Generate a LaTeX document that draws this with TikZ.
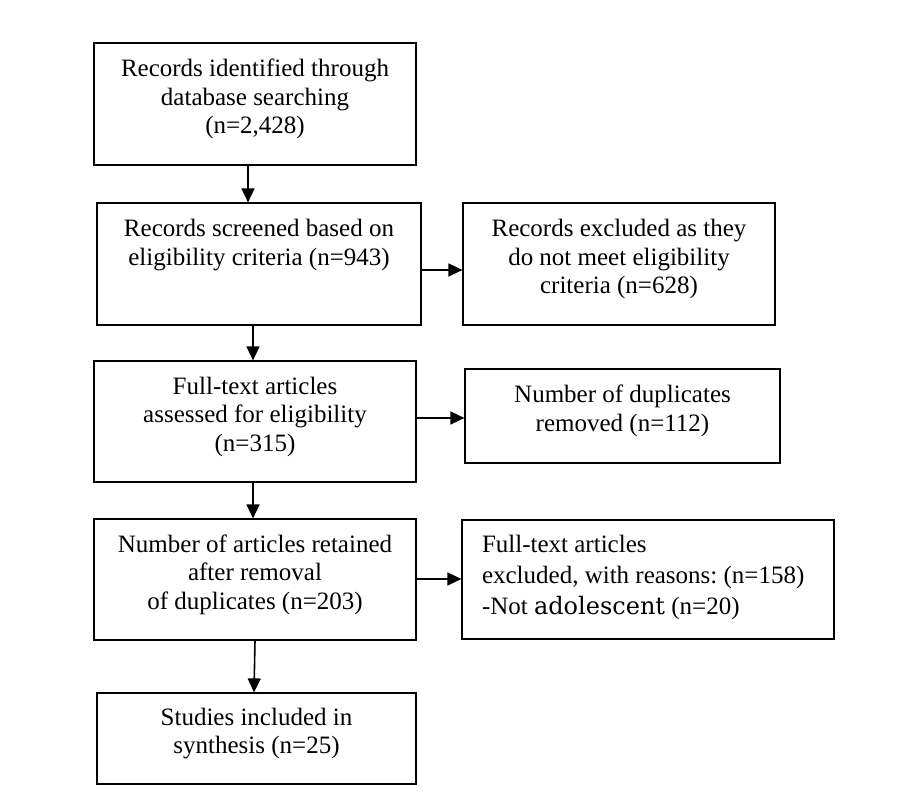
\documentclass[tikz,border=0pt]{standalone}
\usepackage{fontspec}
\setmainfont{Liberation Serif}
\newfontfamily\widefont{DejaVu Serif}
\usetikzlibrary{arrows.meta}
\frenchspacing
\begin{document}
\begin{tikzpicture}[x=1pt,y=-1pt,
  lift/.style={execute at end node={\endgraf\vspace{#1}}},
  box/.style={draw, rectangle, line width=1.2pt, inner sep=0pt, align=flush center, lift=10pt, font=\fontsize{25}{28.5}\selectfont},
  arr/.style={-{Triangle[length=14pt,width=13pt]}, line width=1.6pt}]
\useasboundingbox (0,0) rectangle (900,805);

% Left column
\node[box, text width=322pt, minimum height=122pt] (ident) at (255,104) {Records identified through\\database searching\\(n=2,428)};
\node[box, text width=324pt, minimum height=122pt, lift=28pt] (screen) at (259,264) {Records screened based on\\eligibility criteria (n=943)};
\node[box, text width=322pt, minimum height=121pt] (full) at (255,421.5) {Full-text articles\\assessed for eligibility\\(n=315)};
\node[box, text width=322pt, minimum height=121pt] (ret) at (255,579.5) {Number of articles retained\\after removal\\of duplicates (n=203)};
\node[box, text width=319pt, minimum height=91pt] (incl) at (256.5,738.5) {Studies included in\\synthesis (n=25)};

% Right column
\node[box, text width=312pt, minimum height=122pt] (excl) at (619,264) {Records excluded as they\\do not meet eligibility\\criteria (n=628)};
\node[box, text width=315pt, minimum height=94pt] (dup) at (622.5,416) {Number of duplicates\\removed (n=112)};
\node[box, align=flush left, inner xsep=20pt, text width=332pt, minimum height=119pt, lift=-6pt, font=\fontsize{25}{31}\selectfont] (fte) at (648,579.5) {Full-text articles\\excluded, with reasons: (n=158)\\-Not {\widefont\fontsize{24}{31}\selectfont adolescent} (n=20)};

% Arrows down
\draw[arr] ([xshift=-7pt]ident.south) -- ([xshift=-11pt]screen.north);
\draw[arr] ([xshift=-6pt]screen.south) -- ([xshift=-6pt]screen.south |- full.north);
\draw[arr] ([xshift=-2pt]full.south) -- ([xshift=-2pt]ret.north);
\draw[arr] (ret.south) -- ([xshift=-2.5pt]incl.north);

% Arrows right
\draw[arr] ([yshift=-6pt]screen.east) -- ([yshift=-6pt]screen.east -| excl.west);
\draw[arr] ([yshift=3.5pt]full.east) -- ([yshift=3.5pt]full.east -| dup.west);
\draw[arr] ([yshift=0.5pt]ret.east) -- ([yshift=0.5pt]ret.east -| fte.west);
\end{tikzpicture}
\end{document}
